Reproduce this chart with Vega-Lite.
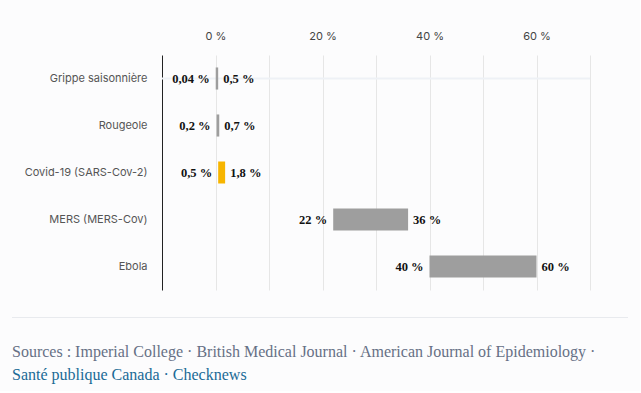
{
  "$schema": "https://vega.github.io/schema/vega-lite/v6.json",
  "background": "#fcfcfd",
  "padding": {"left": 12, "top": 30, "right": 12, "bottom": 8},
  "config": {"view": {"stroke": null}},
  "datasets": {
    "maladies": [
      {"maladie": "Grippe saisonnière", "min": 0.04, "max": 0.5, "minLabel": "0,04 %", "maxLabel": "0,5 %", "groupe": "autre"},
      {"maladie": "Rougeole", "min": 0.2, "max": 0.7, "minLabel": "0,2 %", "maxLabel": "0,7 %", "groupe": "autre"},
      {"maladie": "Covid-19 (SARS-Cov-2)", "min": 0.5, "max": 1.8, "minLabel": "0,5 %", "maxLabel": "1,8 %", "groupe": "covid"},
      {"maladie": "MERS (MERS-Cov)", "min": 22, "max": 36, "minLabel": "22 %", "maxLabel": "36 %", "groupe": "autre"},
      {"maladie": "Ebola", "min": 40, "max": 60, "minLabel": "40 %", "maxLabel": "60 %", "groupe": "autre"}
    ]
  },
  "spacing": 27,
  "vconcat": [
    {
      "spacing": 0,
      "hconcat": [
        {
          "width": 149,
          "height": 235,
          "data": {"name": "maladies"},
          "mark": {"type": "point", "opacity": 0},
          "encoding": {
            "y": {
              "field": "maladie", "type": "nominal", "sort": null,
              "scale": {"paddingInner": 0.53, "paddingOuter": 0.265},
              "axis": {"orient": "right", "title": null, "domain": false, "ticks": false, "grid": false,
                       "labelAlign": "right", "labelPadding": -14,
                       "labelColor": "#555", "labelFont": "Inter", "labelFontSize": 11}
            }
          }
        },
        {
          "width": 428,
          "height": 235,
          "data": {"name": "maladies"},
          "encoding": {
            "y": {
              "field": "maladie", "type": "nominal", "sort": null,
              "scale": {"paddingInner": 0.53, "paddingOuter": 0.265},
              "axis": {"title": null, "labels": false, "domainColor": "#222", "domainWidth": 1, "ticks": false, "grid": false}
            }
          },
          "layer": [
            {
              "transform": [{"filter": "datum.maladie === 'Grippe saisonnière'"}],
              "mark": {"type": "rule", "color": "#eef1f6", "strokeWidth": 2},
              "encoding": {"x": {"datum": -10, "type": "quantitative"}, "x2": {"datum": 70}}
            },
            {
              "mark": {"type": "bar"},
              "encoding": {
                "x": {"field": "min", "type": "quantitative", "scale": {"domain": [-10, 70], "nice": false},
                      "axis": {"orient": "top", "title": null, "values": [0, 10, 20, 30, 40, 50, 60, 70],
                               "labelExpr": "datum.value % 20 === 0 ? datum.value + ' %' : ''",
                               "domain": false, "ticks": false, "grid": true, "gridColor": "#e6e6e6",
                               "labelColor": "#444", "labelFont": "Inter", "labelFontSize": 11, "labelPadding": 14}},
                "x2": {"field": "max"},
                "color": {"field": "groupe", "type": "nominal", "scale": {"domain": ["autre", "covid"], "range": ["#9e9e9e", "#f7b500"]}, "legend": null}
              }
            },
            {
              "mark": {"type": "text", "align": "right", "dx": -6, "font": "Liberation Serif", "fontWeight": "bold", "fontSize": 12.5, "color": "#111"},
              "encoding": {"x": {"field": "min", "type": "quantitative"}, "text": {"field": "minLabel"}}
            },
            {
              "mark": {"type": "text", "align": "left", "dx": 5, "font": "Liberation Serif", "fontWeight": "bold", "fontSize": 12.5, "color": "#111"},
              "encoding": {"x": {"field": "max", "type": "quantitative"}, "text": {"field": "maxLabel"}}
            }
          ]
        }
      ]
    },
    {
      "width": 616,
      "height": 1,
      "view": {"fill": "#e8eaee", "stroke": null},
      "data": {"values": []},
      "mark": "point",
      "encoding": {},
      "title": {
        "text": "Sources : Imperial College · British Medical Journal · American Journal of Epidemiology ·",
        "subtitle": "Santé publique Canada · Checknews",
        "orient": "bottom", "anchor": "start", "offset": 26,
        "font": "Liberation Serif", "fontSize": 16, "fontWeight": "normal", "color": "#667085",
        "subtitleFont": "Liberation Serif", "subtitleFontSize": 16, "subtitleColor": "#1a6a96", "subtitlePadding": 7
      }
    }
  ]
}
